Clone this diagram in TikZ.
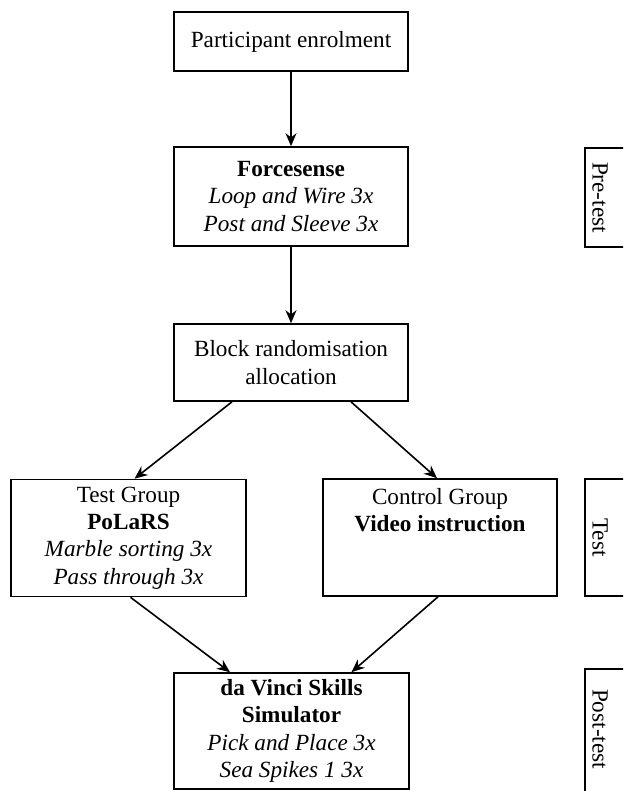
\documentclass[tikz,border=0pt]{standalone}
\usepackage{fontspec}
\setmainfont{Liberation Serif}
\usepackage{tikz}
\usetikzlibrary{shapes}
\usetikzlibrary{arrows.meta}
\usetikzlibrary{calc}
\tikzstyle{etape}=[
        rectangle,
        draw,
        line width=0.8pt,
        align=center,
        font=\fontsize{11.6}{13.7}\selectfont,
        minimum width=117pt,
        inner sep=2pt
]
\tikzstyle{phase}=[rectangle,draw,line width=0.8pt,minimum width=45pt]
\tikzstyle{phasetexte}=[rotate=-90,font=\fontsize{11.6}{13.7}\selectfont,inner sep=0pt]
\tikzstyle{suite}=[-{Stealth[length=6.5pt,width=5.5pt]},line width=0.8pt]

\begin{document}
\begin{tikzpicture}[x=0.5pt,y=-0.5pt]
\useasboundingbox (0,0) rectangle (623,791);
\clip (0,0) rectangle (623,791);
\node[etape,minimum height=29.5pt] (a) at (291,41.5) {Participant enrolment};
\node[etape,minimum height=49.5pt] (b) at (291,196.5) {\textbf{Forcesense}\\\textit{Loop and Wire 3x}\\\textit{Post and Sleeve 3x}};
\node[etape,minimum height=38.5pt] (c) at (291,362.5) {Block randomisation\\allocation};
\node[etape,minimum height=58.5pt,minimum width=117.5pt] (d) at (128.5,538) {Test Group\\\textbf{PoLaRS}\\\textit{Marble sorting 3x}\\\textit{Pass through 3x}};
\node[etape,minimum height=58.5pt] (e) at (440,537.5) {Control Group\\\textbf{Video instruction}\\\mbox{}\\\mbox{}};
\node[etape,minimum height=58pt,minimum width=117.5pt] (f) at (291.5,731) {\textbf{da Vinci Skills}\\\textbf{Simulator}\\\textit{Pick and Place 3x}\\\textit{Sea Spikes 1 3x}};
%phases
\node[phase,minimum height=49.5pt] (p1) at (630,197.5) {};
\node[phase,minimum height=58.5pt] (p2) at (630,537.5) {};
\node[phase,minimum height=62pt] (p3) at (630,731) {};
\node[phasetexte] (l1) at (600,197.5) {Pre-test};
\node[phasetexte] (l2) at (600,537.5) {Test};
\node[phasetexte] (l3) at (600,729) {Post-test};
%fleches
\draw[suite] (a) -- (b);
\draw[suite] (b) -- (c);
\draw[suite] ([xshift=-29.5pt]c.south) -- ([xshift=3pt]d.north);
\draw[suite] ([xshift=30pt]c.south) -- ([xshift=-1.5pt]e.north);
\draw[suite] ([xshift=1pt]d.south) -- ([xshift=-30.75pt]f.north);
\draw[suite] ([xshift=-1pt]e.south) -- ([xshift=30pt]f.north);
\end{tikzpicture}
\end{document}
